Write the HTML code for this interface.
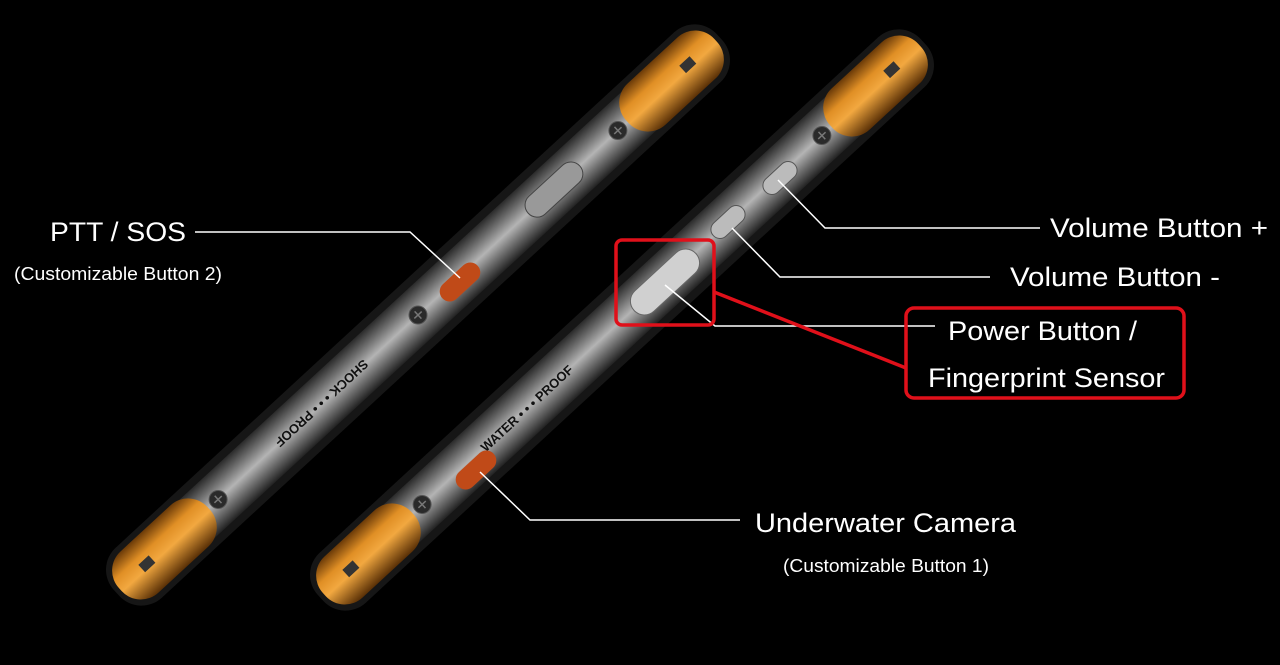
<!DOCTYPE html>
<html><head><meta charset="utf-8"><style>
html,body{margin:0;padding:0;background:#000;width:1280px;height:665px;overflow:hidden}
text{font-family:"Liberation Sans",sans-serif;fill:#fff}
</style></head><body>
<svg width="1280" height="665" viewBox="0 0 1280 665" xmlns="http://www.w3.org/2000/svg">
<defs>
<linearGradient id="metal" x1="0" y1="0" x2="0" y2="1">
<stop offset="0" stop-color="#2a2a2a"/><stop offset="0.25" stop-color="#6e6e6e"/><stop offset="0.5" stop-color="#b4b4b4"/><stop offset="0.75" stop-color="#6a6a6a"/><stop offset="1" stop-color="#222"/>
</linearGradient>
<linearGradient id="orange" x1="0" y1="0" x2="0" y2="1">
<stop offset="0" stop-color="#6a3a08"/><stop offset="0.3" stop-color="#e08f25"/><stop offset="0.55" stop-color="#f2a840"/><stop offset="1" stop-color="#5a3006"/>
</linearGradient>
<g id="screw"><circle r="9" fill="#2a2a2a" stroke="#555"/><path d="M-5 0H5M0 -5V5" stroke="#777" stroke-width="1.5"/></g>
<g id="phone">
<rect x="-410" y="-34" width="820" height="68" rx="30" fill="#161616"/>
<rect x="-400" y="-26" width="800" height="52" rx="24" fill="url(#metal)"/>
<rect x="-405" y="-28" width="120" height="56" rx="26" fill="url(#orange)"/>
<rect x="285" y="-28" width="120" height="56" rx="26" fill="url(#orange)"/>
<rect x="-375" y="-6" width="14" height="10" fill="#333"/>
<rect x="361" y="-6" width="14" height="10" fill="#333"/>
<use href="#screw" x="-272" y="0"/><use href="#screw" x="272" y="0"/>
</g>
</defs>
<g transform="translate(418,315) rotate(-42.7)"><use href="#phone"/>
<use href="#screw" x="0" y="0"/>
<text x="-130" y="5" font-size="13" font-weight="bold" style="fill:#111" transform="rotate(180 -100 0)">SHOCK • • • PROOF</text>
<rect x="150" y="-12" width="70" height="24" rx="12" fill="#999" stroke="#444"/>
</g>
<g transform="translate(622,320) rotate(-42.7)"><use href="#phone"/>
<text x="-190" y="5" font-size="13" font-weight="bold" style="fill:#111">WATER • • • PROOF</text>
</g>
<rect x="-10" y="-24" width="20" height="48" rx="10" fill="#c04a18" transform="translate(460,282) rotate(47.3)"/>
<rect x="-10" y="-24" width="20" height="48" rx="10" fill="#c04a18" transform="translate(476,470) rotate(47.3)"/>
<rect x="-14" y="-42" width="28" height="84" rx="14" fill="#d0d0d0" stroke="#666" transform="translate(665,282) rotate(47.3)"/>
<rect x="-9" y="-20" width="18" height="40" rx="9" fill="#bbb" stroke="#555" transform="translate(780,178) rotate(47.3)"/>
<rect x="-9" y="-20" width="18" height="40" rx="9" fill="#bbb" stroke="#555" transform="translate(728,222) rotate(47.3)"/>
<g stroke="#fff" stroke-width="1.5" fill="none">
<polyline points="195,232 410,232 460,278"/>
<polyline points="1040,228 825,228 778,180"/>
<polyline points="990,277 780,277 732,228"/>
<polyline points="665,285 715,326 935,326"/>
<polyline points="480,472 530,520 740,520"/>
</g>
<g stroke="#e0101a" stroke-width="3.5" fill="none">
<rect x="616" y="240" width="98" height="85" rx="6"/>
<rect x="906" y="308" width="278" height="90" rx="8"/>
<line x1="714" y1="292" x2="906" y2="368"/>
</g>
<text x="50" y="241" font-size="27" textLength="136" lengthAdjust="spacingAndGlyphs">PTT / SOS</text>
<text x="14" y="280" font-size="18" textLength="208" lengthAdjust="spacingAndGlyphs">(Customizable Button 2)</text>
<text x="1050" y="237" font-size="27" textLength="218" lengthAdjust="spacingAndGlyphs">Volume Button +</text>
<text x="1010" y="286" font-size="27" textLength="210" lengthAdjust="spacingAndGlyphs">Volume Button -</text>
<text x="948" y="340" font-size="27" textLength="189" lengthAdjust="spacingAndGlyphs">Power Button /</text>
<text x="928" y="387" font-size="27" textLength="237" lengthAdjust="spacingAndGlyphs">Fingerprint Sensor</text>
<text x="755" y="532" font-size="27" textLength="261" lengthAdjust="spacingAndGlyphs">Underwater Camera</text>
<text x="783" y="572" font-size="18" textLength="206" lengthAdjust="spacingAndGlyphs">(Customizable Button 1)</text>
</svg>
</body></html>
